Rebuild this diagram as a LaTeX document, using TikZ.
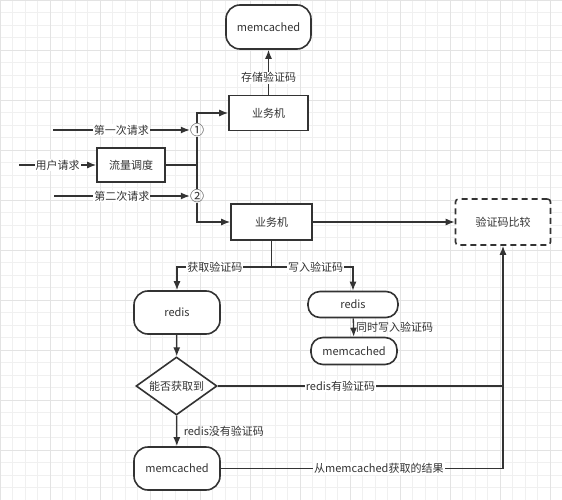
\documentclass[tikz,border=0pt]{standalone}
\usepackage{fontspec}
\setmainfont{Noto Sans CJK SC}
\usepackage{tikz}
\usetikzlibrary{shapes.geometric,arrows.meta}
\definecolor{ink}{HTML}{333333}

\begin{document}
\begin{tikzpicture}[x=1pt,y=-1pt,font=\fontsize{11}{13}\selectfont,color=ink,
		box/.style={draw=ink,line width=1.6pt,inner sep=0pt,fill=white},
		pill/.style={box,rounded corners=14pt},
		lbl/.style={fill=white,inner sep=1pt},
		conn/.style={line width=1.3pt},
		arr/.style={conn,-{Latex[length=9pt,width=7pt]}}]
		\useasboundingbox (0,0) rectangle (562,500);
		\fill[white] (0,0) rectangle (562,500);
		\draw[step=12.5pt, gray!12,very thin] (0,0) grid (562,500);
		\draw[step=50pt, gray!22,very thin] (0,0) grid (562,500);
		% nodes
		\node[pill,minimum width=85pt,minimum height=44pt] (mcA) at (268.5,27) {memcached};
		\node[box,minimum width=79pt,minimum height=35pt] (bizA) at (268.5,113) {业务机};
		\node[box,minimum width=68pt,minimum height=34pt] (sched) at (131,165) {流量调度};
		\node[inner sep=0pt,font=\fontsize{14}{14}\selectfont] (c1) at (197,130) {①};
		\node[inner sep=0pt,font=\fontsize{14}{14}\selectfont] (c2) at (197,196) {②};
		\node[box,minimum width=81pt,minimum height=36pt] (bizB) at (271.5,222) {业务机};
		\node[box,dash pattern=on 6pt off 4pt,rounded corners=3pt,minimum width=95pt,minimum height=46pt] (cmp) at (503,222) {验证码比较};
		\node[pill,minimum width=86pt,minimum height=43pt] (redisA) at (177,312.5) {redis};
		\node[box,diamond,aspect=1.4,minimum width=81pt,minimum height=58pt] (ask) at (176.5,386) {能否获取到};
		\node[pill,minimum width=86pt,minimum height=43pt] (mcB) at (177,468.5) {memcached};
		\node[pill,rounded corners=12pt,minimum width=90pt,minimum height=26pt] (redisB) at (353,304.5) {redis};
		\node[pill,rounded corners=12pt,minimum width=86pt,minimum height=27pt] (mcC) at (354,351) {memcached};
		\coordinate (in1) at (53,130);
		\coordinate (in0) at (19,165);
		\coordinate (in2) at (54,196);
		\coordinate (j) at (197,165);
		\coordinate (fork) at (271.5,267);
		\coordinate (hit) at (503,386);
		% connectors
		\draw[arr] (bizA) -- node[lbl,pos=0.38] {存储验证码} (mcA);
		\draw[arr] (in1) -- node[lbl] {第一次请求} (c1);
		\draw[arr] (in0) -- node[lbl] {用户请求} (sched);
		\draw[arr] (in2) -- node[lbl] {第二次请求} (c2);
		\draw[conn] (sched.east) -- (j);
		\draw[conn] (c1) -- (c2);
		\draw[arr] (c1) |- (bizA);
		\draw[arr] (c2) |- (bizB);
		\draw[arr] (bizB) -- (cmp);
		\draw[conn] (bizB) -- (fork);
		\draw[arr] (fork) -| node[lbl,pos=0.3] {获取验证码} (redisA);
		\draw[arr] (fork) -| node[lbl,pos=0.27] {写入验证码} (redisB);
		\draw[arr] (redisB) -- node[right,inner sep=2pt] {同时写入验证码} (mcC);
		\draw[arr] (redisA) -- (ask);
		\draw[arr] (ask) -- node[right,xshift=3pt] {redis没有验证码} (mcB);
		\draw[conn] (ask.east) -- node[lbl,pos=0.43] {redis有验证码} (hit);
		\draw[arr] (mcB) -| node[lbl,pos=0.28] {从memcached获取的结果} (cmp);
	\end{tikzpicture}
\end{document}
